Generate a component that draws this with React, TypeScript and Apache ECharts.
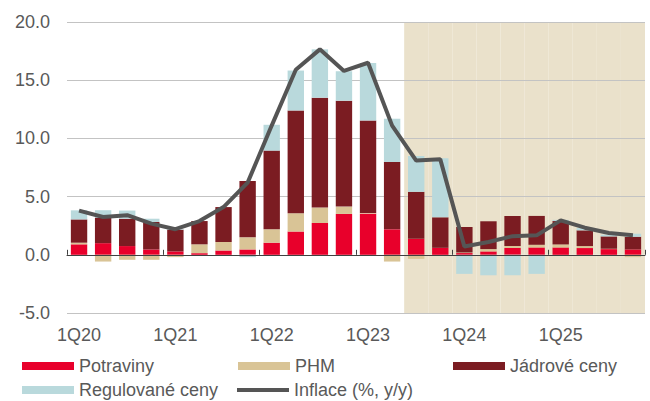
import React, { useEffect, useRef } from "react";
import * as echarts from "echarts";

const categories = [
  "1Q20", "2Q20", "3Q20", "4Q20",
  "1Q21", "2Q21", "3Q21", "4Q21",
  "1Q22", "2Q22", "3Q22", "4Q22",
  "1Q23", "2Q23", "3Q23", "4Q23",
  "1Q24", "2Q24", "3Q24", "4Q24",
  "1Q25", "2Q25", "3Q25", "4Q25",
];

const potraviny = [0.9, 1.0, 0.75, 0.46, 0.29, 0.14, 0.37, 0.46, 1.04, 2.0, 2.73, 3.51, 3.54, 2.19, 1.38, 0.6, 0.15, 0.29, 0.58, 0.63, 0.63, 0.58, 0.49, 0.46];
const phm = [0.14, -0.58, -0.43, -0.43, -0.2, 0.76, 0.73, 1.04, 1.15, 1.57, 1.33, 0.63, 0.06, -0.58, -0.35, 0.0, 0.05, 0.2, 0.17, 0.23, 0.26, 0.17, 0.03, -0.2];
const jadrove = [2.0, 2.2, 2.35, 2.36, 1.87, 2.0, 3.0, 4.83, 6.76, 8.83, 9.44, 9.1, 7.94, 5.78, 4.03, 2.62, 2.19, 2.39, 2.59, 2.48, 2.01, 1.35, 1.06, 1.09];
const regulovane = [0.78, 0.63, 0.7, 0.28, 0.05, 0.0, 0.0, -0.2, 2.22, 3.43, 4.15, 2.53, 4.93, 3.72, 3.08, 5.07, -1.64, -1.76, -1.76, -1.64, 0.1, 0.2, 0.15, 0.26];
const inflace = [3.8, 3.25, 3.4, 2.68, 2.2, 2.9, 4.1, 6.2, 11.1, 15.9, 17.65, 15.8, 16.5, 11.1, 8.1, 8.2, 0.72, 1.1, 1.6, 1.67, 2.96, 2.33, 1.87, 1.67];

const forecastFrom = "3Q23";
const yMin = -5;
const yMax = 20;
const yInterval = 5;

const seriesNames = ["Potraviny", "PHM", "Jádrové ceny", "Regulované ceny", "Inflace (%, y/y)"];

const FONT = "'Liberation Sans', Arial, sans-serif";
const TEXT_COLOR = "#595959";
const LINE_COLOR = "#555555";

export default function App() {
  const ref = useRef<HTMLDivElement>(null);

  useEffect(() => {
    if (!ref.current) return;
    const chart = echarts.init(ref.current, undefined, { renderer: "svg" });
    const fStart = categories.indexOf(forecastFrom);
    const bgTop = categories.map((_, i) => (i >= fStart ? yMax : null));
    const bgBottom = categories.map((_, i) => (i >= fStart ? yMin : null));

    const legendText = { fontSize: 18, color: TEXT_COLOR, fontFamily: FONT };
    const legendPos: [string, number, number, number][] = [
      ["Potraviny", 22, 357, 8],
      ["PHM", 238, 357, 8],
      ["Jádrové ceny", 453, 357, 8],
      ["Regulované ceny", 22, 381, 8],
      ["Inflace (%, y/y)", 237, 381, 4],
    ];

    const option: any = {
      animation: false,
      textStyle: { fontFamily: FONT },
      grid: { left: 67, right: 5, top: 22, bottom: 88, containLabel: false },
      legend: legendPos.map(([name, left, top, h]) => ({
        data: [
          name === seriesNames[4]
            ? { name, icon: "rect", itemStyle: { color: LINE_COLOR } }
            : { name, icon: "rect" },
        ],
        left,
        top,
        itemWidth: 52,
        itemHeight: h,
        padding: 0,
        textStyle: legendText,
        selectedMode: false,
      })),
      xAxis: [
        {
          type: "category",
          data: categories,
          position: "bottom",
          axisLine: { show: false, onZero: false },
          axisTick: { show: false },
          axisLabel: {
            interval: 3,
            fontSize: 18,
            color: TEXT_COLOR,
            fontFamily: FONT,
            margin: 13,
          },
          splitLine: { show: false },
        },
        {
          type: "category",
          data: categories,
          axisLine: { show: true, onZero: true, lineStyle: { color: "#404040", width: 1 } },
          axisTick: { show: true, interval: 3, length: 5, lineStyle: { color: "#404040" } },
          axisLabel: { show: false },
          splitLine: { show: false },
          z: 3,
        },
        {
          type: "category",
          data: categories,
          show: false,
        },
      ],
      yAxis: {
        type: "value",
        min: yMin,
        max: yMax,
        interval: yInterval,
        z: 1,
        axisLine: { show: false },
        axisTick: { show: false },
        axisLabel: {
          fontSize: 18,
          color: TEXT_COLOR,
          fontFamily: FONT,
          margin: 17,
          formatter: (v: number) => v.toFixed(1),
        },
        splitLine: { show: true, lineStyle: { color: "#C3C3C3", width: 1 } },
      },
      series: [
        {
          name: "bgTop",
          type: "bar",
          xAxisIndex: 2,
          stack: "bg",
          data: bgTop,
          barWidth: "100%",
          barCategoryGap: "0%",
          itemStyle: { color: "#EAE1CB" },
          silent: true,
          z: 0,
        },
        {
          name: "bgBottom",
          type: "bar",
          xAxisIndex: 2,
          stack: "bg",
          data: bgBottom,
          barWidth: "100%",
          itemStyle: { color: "#EAE1CB" },
          silent: true,
          z: 0,
        },
        {
          name: seriesNames[0],
          type: "bar",
          stack: "total",
          data: potraviny,
          barCategoryGap: "32%",
          itemStyle: { color: "#E8002B" },
        },
        {
          name: seriesNames[1],
          type: "bar",
          stack: "total",
          data: phm,
          itemStyle: { color: "#D9C496" },
        },
        {
          name: seriesNames[2],
          type: "bar",
          stack: "total",
          data: jadrove,
          itemStyle: { color: "#7B1C22" },
        },
        {
          name: seriesNames[3],
          type: "bar",
          stack: "total",
          data: regulovane,
          itemStyle: { color: "#B9D9DC" },
        },
        {
          name: seriesNames[4],
          type: "line",
          data: inflace,
          symbol: "none",
          lineStyle: { color: LINE_COLOR, width: 4 },
          itemStyle: { color: LINE_COLOR },
          z: 5,
        },
      ],
    };
    chart.setOption(option);
    return () => chart.dispose();
  }, []);

  return (
    <div
      ref={ref}
      style={{ position: "fixed", left: 0, top: 0, width: 650, height: 401, background: "#ffffff" }}
    />
  );
}
